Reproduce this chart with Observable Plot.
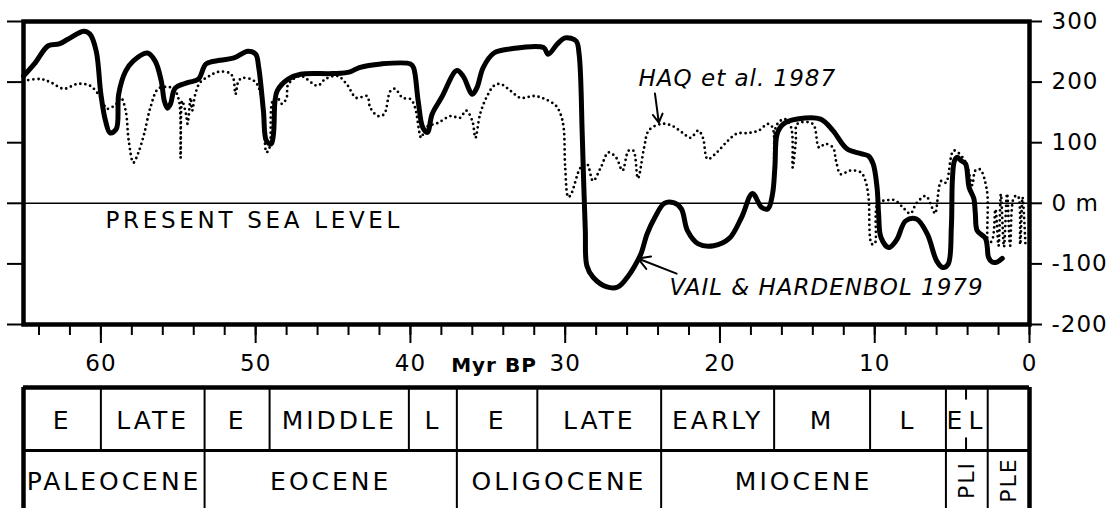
<!DOCTYPE html>
<html><head><meta charset="utf-8">
<script src="https://cdn.jsdelivr.net/npm/d3@7"></script>
<script src="https://cdn.jsdelivr.net/npm/@observablehq/plot@0.6"></script>
<style>
html,body{margin:0;padding:0;background:#fff;}
#chart svg,#table svg{display:block;}
#chart text{letter-spacing:1px;}
#chart text.wide, #chart .wide text{letter-spacing:3.7px;}
#table text{letter-spacing:3px;}
#table .vert text, #table text.vert{letter-spacing:2px;}
</style></head><body>
<div id="chart"></div><div id="table"></div>
<script>
// Vail & Hardenbol 1979 (age in Myr BP, sea level in m)
const vailAge = [65,64.3,63.4,62.7,62.1,61.1,60.7,60.3,60.0,59.7,59.4,59.0,58.85,58.4,57.9,57.0,56.5,56.1,55.9,55.7,55.5,55.2,54.4,53.7,53.2,52.3,51.4,50.5,50.0,49.8,49.5,49.3,49.0,48.85,48.75,48.6,47.9,47.1,45.0,43.9,43.3,41.9,40.0,39.8,39.5,39.2,38.9,38.6,38.0,37.0,36.6,36.0,35.7,35.3,34.6,33.5,31.4,31.1,30.5,30.0,29.3,29.1,28.9,28.8,28.7,28.6,28.2,27.3,26.6,25.9,25.5,25.1,24.7,24.2,23.6,23.0,22.5,22.1,21.4,20.4,19.4,18.6,17.9,17.3,16.9,16.6,16.45,16.3,15.9,15.0,13.5,12.7,11.8,10.9,10.4,10.1,9.85,9.75,9.6,9.1,8.6,8.0,7.3,6.6,6.0,5.6,5.25,5.05,4.98,4.85,4.67,4.4,4.13,3.9,3.6,3.5,3.38,2.84,2.73,2.65,2.41,2.1,1.76];
const vailLevel = [210,230,260,263,271,284,279,251,180,136,116,123,180,218,235,248,235,202,169,157,164,190,199,205,230,236,240,251,246,224,153,103,98,114,169,186,205,213,214,217,224,230,230,224,169,125,117,147,174,219,210,180,191,224,248,255,257,246,263,273,268,246,115,30,-45,-103,-122,-138,-138,-119,-103,-83,-50,-23,0,1,-9,-45,-67,-70,-58,-23,16,-7,-9,16,60,115,131,139,139,120,90,82,78,65,26,-17,-56,-73,-61,-29,-26,-51,-95,-106,-100,-40,40,70,76,70,65,26,8,-17,-45,-58,-72,-89,-97,-97,-91];

// Haq et al. 1987
const haqAge = [65,63.9,63.2,62.4,61.5,60.7,60.0,59.6,59.0,58.7,58.4,58.2,57.9,57.6,57.2,56.8,56.3,55.7,55.3,54.95,54.85,54.75,54.5,54.4,54.2,54.1,53.9,53.6,53.0,52.4,51.7,51.45,51.3,51.1,50.8,50.1,49.8,49.5,49.3,49.1,48.9,48.6,48.3,48.0,47.9,47.1,46.0,45.5,44.7,44.1,43.5,42.8,42.6,42.1,41.7,41.3,41.0,40.5,40.0,39.7,39.3,39.0,38.2,37.4,36.8,36.4,36.0,35.8,35.5,35.1,34.6,34.2,33.5,32.9,32.0,31.3,30.6,30.3,30.1,30.0,29.8,29.6,29.0,28.6,28.2,27.7,27.2,26.7,26.3,25.9,25.6,25.3,24.9,24.6,23.8,23.1,22.4,21.9,21.4,21.1,20.8,20.2,19.5,18.9,18.2,17.5,16.9,16.6,16.5,16.4,16.1,15.8,15.4,15.3,15.1,15.0,14.0,13.6,13.2,12.7,12.5,12.2,11.6,10.9,10.6,10.4,10.2,10.0,9.8,9.2,8.7,8.1,7.7,7.3,6.7,6.3,6.1,5.7,5.4,4.9,4.3,4.0,3.7,3.5,3.2,2.75,2.65,2.4,2.2,2.0,1.85,1.65,1.45,1.25,1.0,0.75,0.6,0.45,0.26];
const haqLevel = [202,205,199,189,197,194,174,156,164,174,153,103,67,82,115,158,189,192,189,169,75,169,147,131,174,153,180,199,210,217,215,207,180,202,207,202,191,153,84,92,169,174,164,174,196,210,194,205,210,196,174,177,158,144,147,185,189,174,172,158,108,125,133,144,141,153,136,108,147,174,194,197,185,174,177,172,161,147,125,59,10,16,59,65,37,59,84,75,54,87,87,41,92,120,131,128,116,108,120,108,73,84,103,115,116,120,131,125,55,125,136,139,125,59,103,131,131,92,98,92,70,48,54,51,37,10,-67,-67,0,5,5,-9,-17,0,12,-7,-17,37,34,87,75,59,30,54,56,21,-67,-60,-10,-70,15,-72,16,-70,10,12,-68,10,-70];

const levelTicks = [300,200,100,0,-100,-200];
const ageTicks = [60,50,40,30,20,10,0];
const ageMinorTicks = [64,62,60,58,56,54,52,50,48,46,44,42,40,38,36,34,32,30,28,26,24,22,20,18,16,14,12,10,8,6,4,2,0];

// stratigraphic table
const stageNames = ["E","LATE","E","MIDDLE","L","E","LATE","EARLY","M","L","E","L",""];
const stageStart = [65,60,53.3,49.1,40.1,37,31.8,23.8,16.5,10.3,5.4,4.1,2.7];
const stageEnd   = [60,53.3,49.1,40.1,37,31.8,23.8,16.5,10.3,5.4,4.1,2.7,0];
const partialBoundaries = [4.1];
const epochNames = ["PALEOCENE","EOCENE","OLIGOCENE","MIOCENE","PLI","PLE"];
const epochStart = [65,53.3,37,23.8,5.4,2.7];
const epochEnd   = [53.3,37,23.8,5.4,2.7,0];
const epochVertical = [false,false,false,false,true,true];

const vail = vailAge.map((a,i)=>({age:a, level:vailLevel[i]}));
const haq = haqAge.map((a,i)=>({age:a, level:haqLevel[i]}));
const stages = stageNames.map((n,i)=>({name:n, start:stageStart[i], end:stageEnd[i]}));
const epochs = epochNames.map((n,i)=>({name:n, start:epochStart[i], end:epochEnd[i], vertical:epochVertical[i]}));
const stageDividers = stageEnd.slice(0,-1).filter(d=>!partialBoundaries.includes(d));
const epochDividers = epochEnd.slice(0,-1);

const FONT = "DejaVu Sans";
const baseStyle = {fontFamily:FONT, background:"white", color:"black", fontSize:"23px"};

const chart = Plot.plot({
  width:1118, height:380,
  marginLeft:23, marginRight:89, marginTop:21, marginBottom:56,
  style:baseStyle,
  x:{domain:[65,0]},
  y:{domain:[-200,300]},
  marks:[
    Plot.ruleY([0], {stroke:"black", strokeWidth:1.6}),
    Plot.line(haq, {x:"age", y:"level", stroke:"black", strokeWidth:2.8, strokeDasharray:"0 5", strokeLinecap:"round", curve:"catmull-rom"}),
    Plot.line(vail, {x:"age", y:"level", stroke:"black", strokeWidth:5, strokeLinejoin:"round", strokeLinecap:"round", curve:"catmull-rom"}),
    Plot.frame({stroke:"black", strokeWidth:4.5}),
    Plot.axisY({anchor:"left", ticks:levelTicks, tickSize:16, tickFormat:()=>"", label:null, strokeWidth:2}),
    Plot.axisY({anchor:"right", ticks:levelTicks, tickSize:12, tickPadding:10, tickFormat:d=> d===0 ? "0 m" : String(d), label:null, fontSize:23, strokeWidth:2}),
    Plot.axisX({ticks:ageMinorTicks, tickSize:11, tickFormat:()=>"", label:null, strokeWidth:2}),
    Plot.axisX({ticks:ageTicks, tickSize:19, tickPadding:11, tickFormat:d=>String(d), label:null, fontSize:23, strokeWidth:2}),
    Plot.text(["Myr BP"], {text:d=>d, x:34.6, y:-279, fontWeight:"bold", fontSize:20, lineAnchor:"bottom"}),
    Plot.text(["PRESENT SEA LEVEL"], {text:d=>d, x:59.7, y:-40, textAnchor:"start", lineAnchor:"bottom", fontSize:23, className:"wide"}),
    Plot.text(["HAQ et al. 1987"], {text:d=>d, x:25.26, y:194, textAnchor:"start", lineAnchor:"bottom", fontSize:23, fontStyle:"italic"}),
    Plot.text(["VAIL & HARDENBOL 1979"], {text:d=>d, x:23.26, y:-152, textAnchor:"start", lineAnchor:"bottom", fontSize:23, fontStyle:"italic"}),
    Plot.arrow([0], {x1:24.2, y1:181, x2:23.95, y2:133, stroke:"black", strokeWidth:2, headLength:10}),
    Plot.arrow([0], {x1:22.8, y1:-116, x2:25.3, y2:-91, stroke:"black", strokeWidth:2, headLength:10})
  ]
});
document.getElementById("chart").appendChild(chart);

const table = Plot.plot({
  width:1118, height:128,
  marginLeft:23, marginRight:89, marginTop:7, marginBottom:0,
  style:baseStyle,
  x:{domain:[65,0], axis:null},
  y:{domain:[0,2], range:[7,133], axis:null},
  marks:[
    Plot.ruleY([0], {x1:65, x2:0, stroke:"black", strokeWidth:4.5}),
    Plot.ruleY([1], {x1:65, x2:0, stroke:"black", strokeWidth:3}),
    Plot.ruleX([65,0], {y1:0, y2:2, stroke:"black", strokeWidth:4.5}),
    Plot.ruleX(stageDividers, {y1:0, y2:1, stroke:"black", strokeWidth:2}),
    Plot.ruleX(epochDividers, {y1:1, y2:2, stroke:"black", strokeWidth:2}),
    Plot.ruleX(partialBoundaries, {y1:0, y2:0.2, stroke:"black", strokeWidth:2}),
    Plot.ruleX(partialBoundaries, {y1:0.8, y2:1, stroke:"black", strokeWidth:2}),
    Plot.text(stages, {x:d=>(d.start+d.end)/2, y:0.53, text:"name", fontSize:25}),
    Plot.text(epochs.filter(d=>!d.vertical), {x:d=>(d.start+d.end)/2, y:1.5, text:"name", fontSize:25}),
    Plot.text(epochs.filter(d=>d.vertical), {x:d=>(d.start+d.end)/2, y:1.47, text:"name", fontSize:22, rotate:-90, className:"vert"})
  ]
});
document.getElementById("table").appendChild(table);
</script>
</body></html>
